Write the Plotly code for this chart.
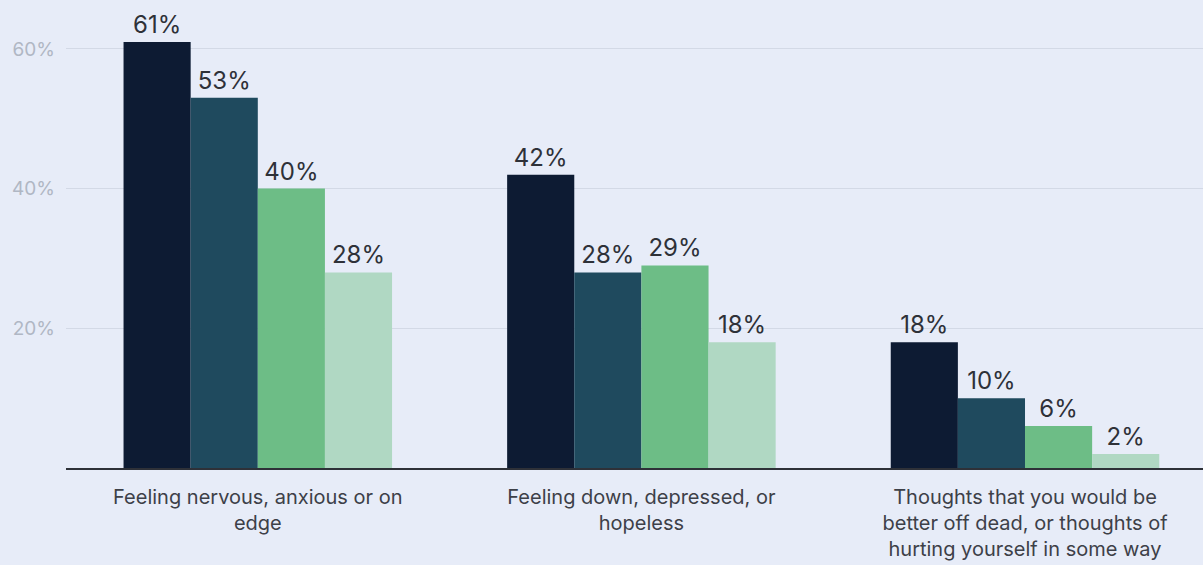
import plotly.graph_objects as go

categories = [
    "Feeling nervous, anxious or on<br>edge",
    "Feeling down, depressed, or<br>hopeless",
    "Thoughts that you would be<br>better off dead, or thoughts of<br>hurting yourself in some way",
]
series_a = [61, 42, 18]
series_b = [53, 28, 10]
series_c = [40, 29, 6]
series_d = [28, 18, 2]
series_values = [series_a, series_b, series_c, series_d]
series_colors = ["#0d1b33", "#1f4a5e", "#6dbd86", "#b0d8c3"]
tick_vals = [20, 40, 60]
tick_text = ["20%", "40%", "60%"]

fig = go.Figure()
for vals, col in zip(series_values, series_colors):
    fig.add_trace(go.Bar(
        x=categories, y=vals, marker=dict(color=col, line=dict(width=0)),
        text=[f"{v}%" for v in vals], textposition="outside",
        textfont=dict(family="Inter", size=24, color="#2e3138"),
        cliponaxis=False, showlegend=False,
    ))

fig.update_layout(
    width=1203, height=565, barmode="group", bargap=0.30, bargroupgap=0,
    paper_bgcolor="#e7ecf8", plot_bgcolor="#e7ecf8",
    margin=dict(l=66, r=0, t=0, b=97),
    font=dict(family="Inter", color="#3a3d44"),
)
fig.update_xaxes(
    range=[-0.5, 2.464], showline=True, linecolor="#2e3138", linewidth=2,
    ticks="", tickfont=dict(family="Inter", size=20, color="#3d4048"),
    ticklabelstandoff=10, showgrid=False,
)
fig.update_yaxes(
    range=[0, 67], tickvals=tick_vals, ticktext=tick_text,
    showgrid=True, gridcolor="#d3d9e6", gridwidth=1, zeroline=False,
    tickfont=dict(family="Inter", size=19, color="#b0b7c4"), ticklabelstandoff=10,
)
fig.write_html("out.html")
